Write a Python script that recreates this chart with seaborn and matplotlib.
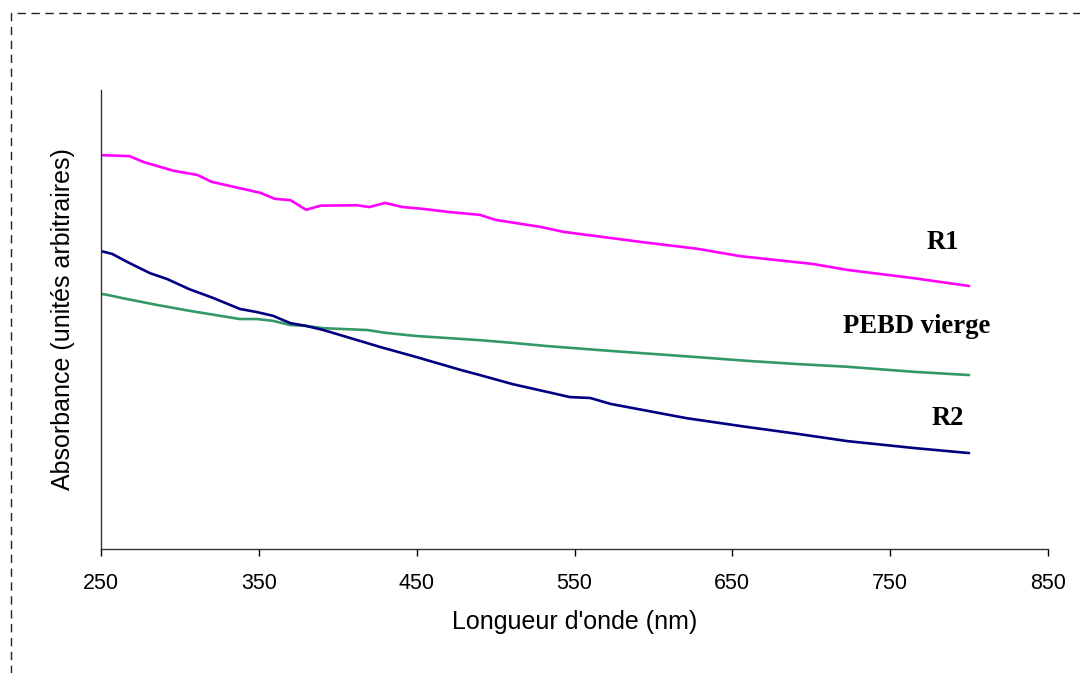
import matplotlib
matplotlib.use("Agg")
import matplotlib.pyplot as plt
import seaborn as sns
import pandas as pd
from matplotlib.patches import Rectangle

# ---- data (arbitrary absorbance units) ----
r1_nm = [250, 268, 277, 296, 311, 320, 338, 351, 360, 370, 380, 389, 412, 420, 430, 441,
         454, 471, 490, 500, 528, 543, 592, 628, 655, 701, 723, 765, 800]
r1_abs = [0.858, 0.856, 0.843, 0.824, 0.815, 0.800, 0.786, 0.776, 0.763, 0.760, 0.739, 0.748,
          0.749, 0.745, 0.754, 0.745, 0.741, 0.734, 0.728, 0.717, 0.702, 0.691, 0.669, 0.654,
          0.638, 0.621, 0.608, 0.590, 0.573]

pebd_nm = [250, 255, 263, 285, 306, 338, 349, 359, 370, 380, 391, 419, 430, 450, 490, 511,
           533, 575, 628, 659, 691, 723, 765, 800]
pebd_abs = [0.556, 0.553, 0.547, 0.532, 0.519, 0.501, 0.501, 0.497, 0.488, 0.486, 0.481, 0.477,
            0.471, 0.464, 0.455, 0.449, 0.442, 0.431, 0.418, 0.410, 0.403, 0.397, 0.386, 0.379]

r2_nm = [250, 257, 268, 281, 292, 306, 321, 338, 349, 359, 370, 380, 391, 427, 450, 465, 478,
         490, 511, 533, 547, 560, 573, 621, 659, 691, 723, 765, 800]
r2_abs = [0.649, 0.643, 0.623, 0.601, 0.588, 0.566, 0.547, 0.523, 0.516, 0.508, 0.492, 0.486,
          0.477, 0.440, 0.418, 0.403, 0.390, 0.379, 0.359, 0.342, 0.331, 0.329, 0.316, 0.285,
          0.266, 0.251, 0.235, 0.220, 0.209]

x_ticks = [250, 350, 450, 550, 650, 750, 850]
series_names = ["R1", "PEBD vierge", "R2"]
series_colors = ["#FF00FF", "#339966", "#000080"]
label_pos = [(783, 0.667), (766.5, 0.484), (786.8, 0.285)]

df = pd.concat([
    pd.DataFrame({"nm": r1_nm, "abs": r1_abs, "s": "R1"}),
    pd.DataFrame({"nm": pebd_nm, "abs": pebd_abs, "s": "PEBD vierge"}),
    pd.DataFrame({"nm": r2_nm, "abs": r2_abs, "s": "R2"}),
])

sns.set_style("white")
plt.rcParams["font.family"] = ["Liberation Sans", "DejaVu Sans"]
plt.rcParams["text.color"] = "black"
plt.rcParams["axes.labelcolor"] = "black"

fig = plt.figure(figsize=(10.8, 6.73), dpi=100)
ax = fig.add_axes([101 / 1080, 1 - 549 / 673, (1048 - 101) / 1080, (549 - 90) / 673])

sns.lineplot(data=df, x="nm", y="abs", hue="s", hue_order=series_names,
             palette=dict(zip(series_names, series_colors)), linewidth=1.9,
             legend=False, ax=ax, sort=False)

for name, (lx, ly) in zip(series_names, label_pos):
    ax.text(lx, ly, name, ha="center", va="center", fontsize=19.2, fontweight="bold",
            family="Liberation Serif", color="black")

ax.set_xlim(250, 850)
ax.set_ylim(0, 1)
ax.set_xticks(x_ticks)
ax.set_xticklabels([str(t) for t in x_ticks])
ax.set_yticks([])
ax.tick_params(axis="x", direction="out", length=5, width=1, pad=12, labelsize=15.5,
               colors="black", labelcolor="black", bottom=True)
ax.set_xlabel("Longueur d'onde (nm)", fontsize=18, labelpad=12, color="black")
ax.set_ylabel("Absorbance (unités arbitraires)", fontsize=18, labelpad=19, color="black")
for side in ["top", "right"]:
    ax.spines[side].set_visible(False)
for side in ["left", "bottom"]:
    ax.spines[side].set_color("#333333")
    ax.spines[side].set_linewidth(1.0)

# dashed outer frame (top and left visible)
frame = Rectangle((11 / 1080, -0.1), 1.2, (1 - 13 / 673) + 0.1, transform=fig.transFigure,
                  fill=False, edgecolor="#222222", linewidth=1.0, linestyle=(0, (6, 4)))
fig.patches.append(frame)

fig.savefig("out.png", dpi=100)
